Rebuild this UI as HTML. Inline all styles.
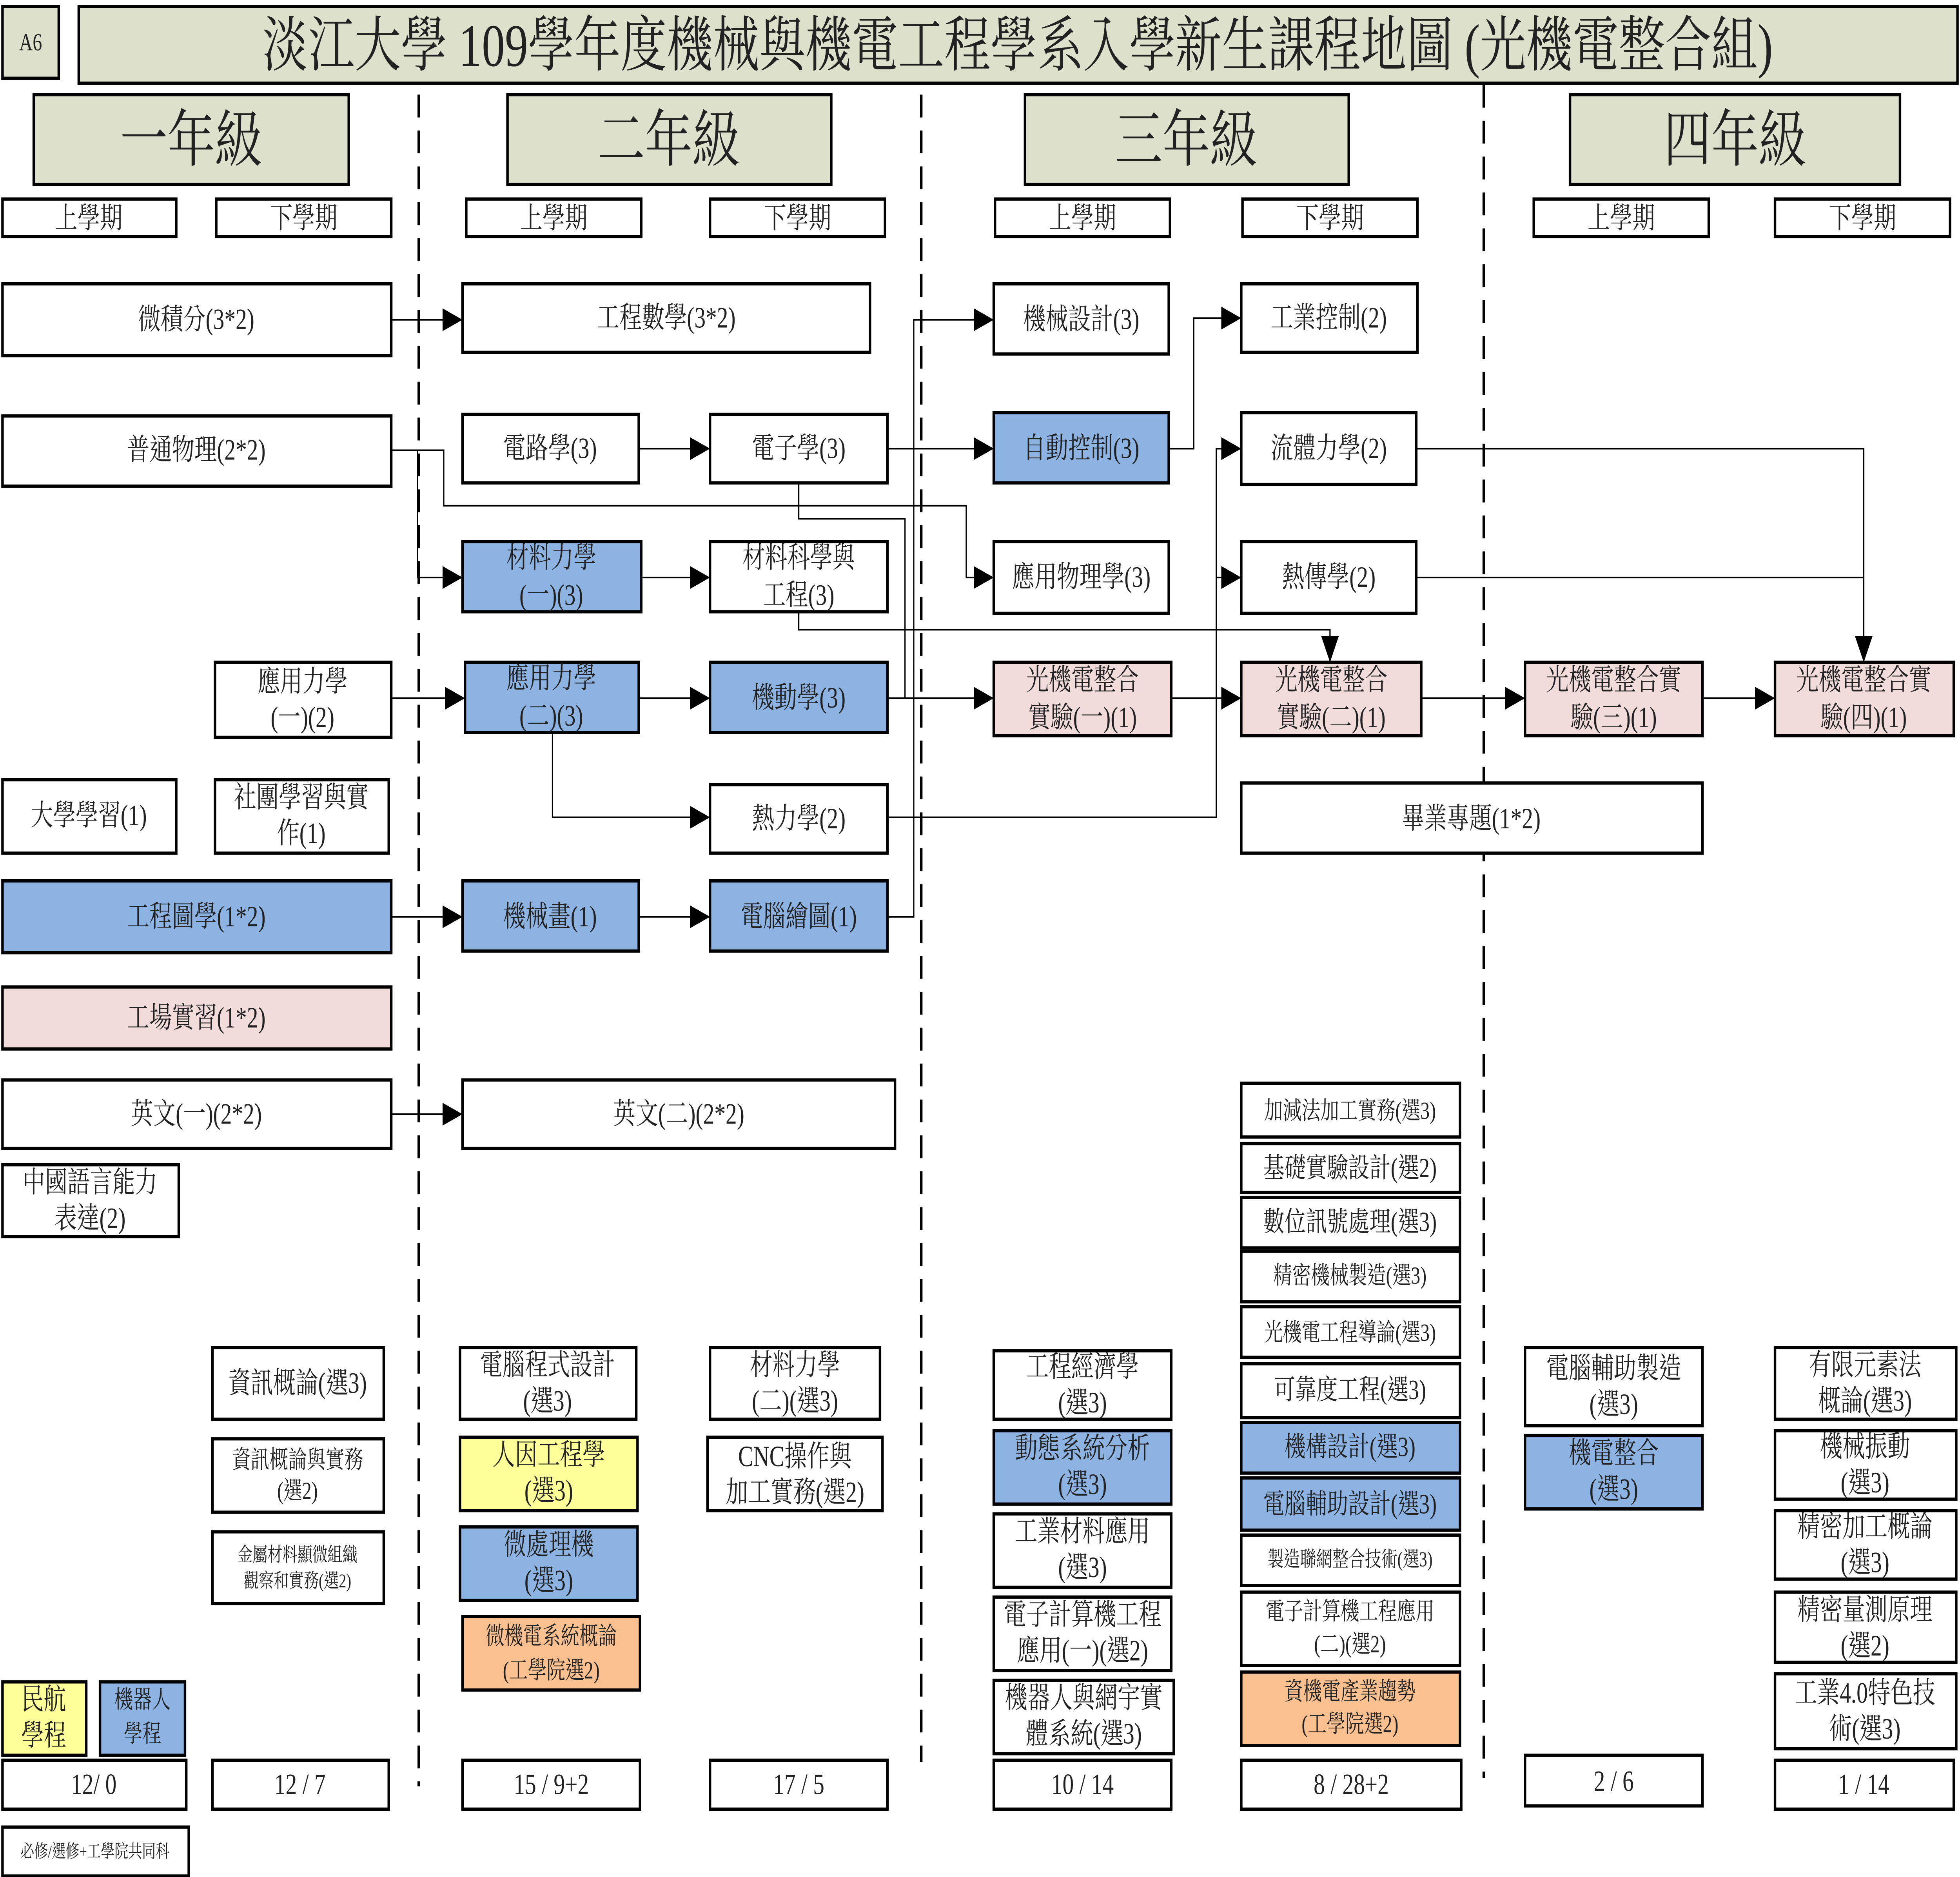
<!DOCTYPE html>
<html><head><meta charset="utf-8">
<style>
html,body{margin:0;padding:0;background:#fff;width:100%;height:100%;overflow:hidden;}
svg{display:block;position:fixed;left:0;top:0;width:100vw;height:100vh;}
text{font-family:"Liberation Serif","Noto Serif CJK TC","Noto Sans CJK TC",serif;fill:#222;text-anchor:middle;dominant-baseline:central;}
.r{fill:#fff;stroke:#000;stroke-width:2;}
.bl{fill:#8db3e2;}
.pk{fill:#f2dcdb;}
.ye{fill:#ffff99;}
.or{fill:#fac090;}
.ol{fill:#dde1cb;}
.c{font-size:18px;}
.s{font-size:15px;}
.xs{font-size:12px;}
.ln{fill:none;stroke:#000;stroke-width:1;}
.d{stroke:#000;stroke-width:2;stroke-dasharray:14,8;}
</style></head>
<body>
<svg viewBox="0 0 1568 1150.6" preserveAspectRatio="none" xmlns="http://www.w3.org/2000/svg">
<defs>
<marker id="a" markerUnits="userSpaceOnUse" markerWidth="18" markerHeight="14" refX="16" refY="7" orient="auto">
<path d="M0,0 L16,7 L0,14 Z" fill="#000"/>
</marker>
</defs>

<rect class="r ol" x="2" y="4" width="45" height="44"/>
<text x="24.5" y="26" style="font-size:15px">A6</text>
<rect class="r ol" x="63" y="4" width="1503" height="47"/>
<text x="814" y="28" style="font-size:37px">淡江大學 109學年度機械與機電工程學系入學新生課程地圖 (光機電整合組)</text>

<rect class="r ol" x="27" y="58" width="252" height="55"/><text x="153" y="86" style="font-size:38px">一年級</text>
<rect class="r ol" x="406" y="58" width="259" height="55"/><text x="535" y="86" style="font-size:38px">二年級</text>
<rect class="r ol" x="820" y="58" width="259" height="55"/><text x="949" y="86" style="font-size:38px">三年級</text>
<rect class="r ol" x="1256" y="58" width="264" height="55"/><text x="1388" y="86" style="font-size:38px">四年級</text>

<g class="c">
<rect class="r" x="2" y="122" width="139" height="23"/><text x="71" y="134">上學期</text>
<rect class="r" x="173" y="122" width="140" height="23"/><text x="243" y="134">下學期</text>
<rect class="r" x="373" y="122" width="140" height="23"/><text x="443" y="134">上學期</text>
<rect class="r" x="568" y="122" width="140" height="23"/><text x="638" y="134">下學期</text>
<rect class="r" x="796" y="122" width="140" height="23"/><text x="866" y="134">上學期</text>
<rect class="r" x="994" y="122" width="140" height="23"/><text x="1064" y="134">下學期</text>
<rect class="r" x="1227" y="122" width="140" height="23"/><text x="1297" y="134">上學期</text>
<rect class="r" x="1420" y="122" width="140" height="23"/><text x="1490" y="134">下學期</text>
</g>

<line class="d" x1="335" y1="58" x2="335" y2="1095"/>
<line class="d" x1="737" y1="58" x2="737" y2="1080"/>
<line class="d" x1="1187" y1="52" x2="1187" y2="1090"/>

<g class="ln">
<polyline points="313,196 370,196" marker-end="url(#a)"/>
<polyline points="313,276 355,276 355,310 773,310 773,354 795,354" marker-end="url(#a)"/>
<polyline points="334,276 334,354 370,354" marker-end="url(#a)"/>
<polyline points="511,275 568,275" marker-end="url(#a)"/>
<polyline points="710,275 795,275" marker-end="url(#a)"/>
<polyline points="639,296 639,318 724,318 724,428" />
<polyline points="639,375 639,386 1064,386 1064,406" marker-end="url(#a)"/>
<polyline points="513,354 568,354" marker-end="url(#a)"/>
<polyline points="313,428 372,428" marker-end="url(#a)"/>
<polyline points="511,428 568,428" marker-end="url(#a)"/>
<polyline points="710,428 795,428" marker-end="url(#a)"/>
<polyline points="442,449 442,501 568,501" marker-end="url(#a)"/>
<polyline points="313,562 370,562" marker-end="url(#a)"/>
<polyline points="511,562 568,562" marker-end="url(#a)"/>
<polyline points="710,562 731,562 731,196 795,196" marker-end="url(#a)"/>
<polyline points="313,683 370,683" marker-end="url(#a)"/>
<polyline points="935,275 955,275 955,195 993,195" marker-end="url(#a)"/>
<polyline points="710,501 973,501 973,275 993,275" marker-end="url(#a)"/>
<polyline points="973,354 993,354" marker-end="url(#a)"/>
<polyline points="937,428 993,428" marker-end="url(#a)"/>
<polyline points="1137,428 1220,428" marker-end="url(#a)"/>
<polyline points="1362,428 1420,428" marker-end="url(#a)"/>
<polyline points="1133,275 1491,275 1491,406" marker-end="url(#a)"/>
<polyline points="1133,354 1491,354"/>
</g>

<g class="c">
<rect class="r" x="2" y="174" width="311" height="44"/><text x="157" y="196">微積分(3*2)</text>
<rect class="r" x="2" y="255" width="311" height="43"/><text x="157" y="276">普通物理(2*2)</text>
<rect class="r" x="172" y="406" width="141" height="46"/><text x="242" y="418">應用力學</text><text x="242" y="440">(一)(2)</text>
<rect class="r" x="2" y="478" width="139" height="45"/><text x="71" y="500">大學學習(1)</text>
<rect class="r" x="172" y="478" width="139" height="45"/><text x="241" y="489">社團學習與實</text><text x="241" y="511">作(1)</text>
<rect class="r bl" x="2" y="540" width="311" height="44"/><text x="157" y="562">工程圖學(1*2)</text>
<rect class="r pk" x="2" y="605" width="311" height="38"/><text x="157" y="624">工場實習(1*2)</text>
<rect class="r" x="2" y="662" width="311" height="42"/><text x="157" y="683">英文(一)(2*2)</text>
<rect class="r" x="2" y="714" width="141" height="44"/><text x="72" y="725">中國語言能力</text><text x="72" y="747">表達(2)</text>
<rect class="r" x="170" y="826" width="137" height="44"/><text x="238" y="848">資訊概論(選3)</text>
</g>
<rect class="r" x="170" y="882" width="137" height="45"/><text class="s" x="238" y="895">資訊概論與實務</text><text class="s" x="238" y="914">(選2)</text>
<rect class="r" x="170" y="939" width="137" height="44"/><text class="xs" x="238" y="953">金屬材料顯微組織</text><text class="xs" x="238" y="969">觀察和實務(選2)</text>
<g class="c">
<rect class="r ye" x="2" y="1031" width="67" height="45"/><text x="35" y="1042">民航</text><text x="35" y="1064">學程</text>
<rect class="r bl" x="80" y="1031" width="68" height="45"/><text x="114" y="1042" class="s">機器人</text><text x="114" y="1063" class="s">學程</text>
<rect class="r" x="2" y="1079" width="147" height="30"/><text x="75" y="1094">12/ 0</text>
<rect class="r" x="170" y="1079" width="141" height="30"/><text x="240" y="1094">12 / 7</text>
</g>
<rect class="r" x="2" y="1120" width="149" height="30"/><text class="xs" x="76" y="1135" style="font-size:11px">必修/選修+工學院共同科</text>

<g class="c">
<rect class="r" x="370" y="174" width="326" height="42"/><text x="533" y="195">工程數學(3*2)</text>
<rect class="r" x="370" y="254" width="141" height="42"/><text x="440" y="275">電路學(3)</text>
<rect class="r" x="568" y="254" width="142" height="42"/><text x="639" y="275">電子學(3)</text>
<rect class="r bl" x="370" y="332" width="143" height="43"/><text x="441" y="342">材料力學</text><text x="441" y="365">(一)(3)</text>
<rect class="r" x="568" y="332" width="142" height="43"/><text x="639" y="342">材料科學與</text><text x="639" y="365">工程(3)</text>
<rect class="r bl" x="372" y="406" width="139" height="43"/><text x="441" y="416">應用力學</text><text x="441" y="439">(二)(3)</text>
<rect class="r bl" x="568" y="406" width="142" height="43"/><text x="639" y="428">機動學(3)</text>
<rect class="r" x="568" y="481" width="142" height="42"/><text x="639" y="502">熱力學(2)</text>
<rect class="r bl" x="370" y="540" width="141" height="43"/><text x="440" y="562">機械畫(1)</text>
<rect class="r bl" x="568" y="540" width="142" height="43"/><text x="639" y="562">電腦繪圖(1)</text>
<rect class="r" x="370" y="662" width="346" height="42"/><text x="543" y="683">英文(二)(2*2)</text>
<rect class="r" x="368" y="826" width="141" height="44"/><text x="438" y="837">電腦程式設計</text><text x="438" y="859">(選3)</text>
<rect class="r ye" x="368" y="881" width="142" height="45"/><text x="439" y="892">人因工程學</text><text x="439" y="914">(選3)</text>
<rect class="r bl" x="368" y="936" width="142" height="45"/><text x="439" y="947">微處理機</text><text x="439" y="969">(選3)</text>
</g>
<rect class="r or" x="370" y="991" width="142" height="45"/><text class="s" x="441" y="1003">微機電系統概論</text><text class="s" x="441" y="1024">(工學院選2)</text>
<g class="c">
<rect class="r" x="568" y="826" width="136" height="44"/><text x="636" y="837">材料力學</text><text x="636" y="859">(二)(選3)</text>
<rect class="r" x="566" y="881" width="140" height="45"/><text x="636" y="893">CNC操作與</text><text x="636" y="915">加工實務(選2)</text>
<rect class="r" x="370" y="1079" width="142" height="30"/><text x="441" y="1094">15 / 9+2</text>
<rect class="r" x="568" y="1079" width="142" height="30"/><text x="639" y="1094">17 / 5</text>
</g>

<g class="c">
<rect class="r" x="795" y="174" width="140" height="43"/><text x="865" y="196">機械設計(3)</text>
<rect class="r bl" x="795" y="253" width="140" height="43"/><text x="865" y="275">自動控制(3)</text>
<rect class="r" x="795" y="332" width="140" height="44"/><text x="865" y="354">應用物理學(3)</text>
<rect class="r pk" x="795" y="406" width="142" height="45"/><text x="866" y="417">光機電整合</text><text x="866" y="440">實驗(一)(1)</text>
<rect class="r" x="993" y="174" width="141" height="42"/><text x="1063" y="195">工業控制(2)</text>
<rect class="r" x="993" y="253" width="140" height="44"/><text x="1063" y="275">流體力學(2)</text>
<rect class="r" x="993" y="332" width="140" height="44"/><text x="1063" y="354">熱傳學(2)</text>
<rect class="r pk" x="993" y="406" width="144" height="45"/><text x="1065" y="417">光機電整合</text><text x="1065" y="440">實驗(二)(1)</text>
<rect class="r" x="993" y="480" width="369" height="43"/><text x="1177" y="502">畢業專題(1*2)</text>
<rect class="r" x="795" y="828" width="142" height="42"/><text x="866" y="838">工程經濟學</text><text x="866" y="860">(選3)</text>
<rect class="r bl" x="795" y="877" width="142" height="45"/><text x="866" y="888">動態系統分析</text><text x="866" y="910">(選3)</text>
<rect class="r" x="795" y="928" width="142" height="45"/><text x="866" y="939">工業材料應用</text><text x="866" y="961">(選3)</text>
<rect class="r" x="795" y="979" width="142" height="45"/><text x="866" y="990">電子計算機工程</text><text x="866" y="1012">應用(一)(選2)</text>
<rect class="r" x="795" y="1030" width="144" height="45"/><text x="867" y="1041">機器人與網宇實</text><text x="867" y="1063">體系統(選3)</text>
<rect class="r" x="795" y="1079" width="142" height="30"/><text x="866" y="1094">10 / 14</text>
</g>
<g class="s">
<rect class="r" x="993" y="664" width="175" height="33"/><text x="1080" y="681">加減法加工實務(選3)</text>
<rect class="r" x="993" y="701" width="175" height="30"/><text x="1080" y="716" style="font-size:17px">基礎實驗設計(選2)</text>
<rect class="r" x="993" y="734" width="175" height="31"/><text x="1080" y="749" style="font-size:17px">數位訊號處理(選3)</text>
<rect class="r" x="993" y="767" width="175" height="31"/><text x="1080" y="782">精密機械製造(選3)</text>
<rect class="r" x="993" y="801" width="175" height="31"/><text x="1080" y="817">光機電工程導論(選3)</text>
<rect class="r" x="993" y="836" width="175" height="33"/><text x="1080" y="852" style="font-size:17px">可靠度工程(選3)</text>
<rect class="r bl" x="993" y="872" width="175" height="31"/><text x="1080" y="887" style="font-size:17px">機構設計(選3)</text>
<rect class="r bl" x="993" y="906" width="175" height="32"/><text x="1080" y="922" style="font-size:17px">電腦輔助設計(選3)</text>
<rect class="r" x="993" y="941" width="175" height="31"/><text x="1080" y="956" style="font-size:13px">製造聯網整合技術(選3)</text>
<rect class="r" x="993" y="976" width="175" height="45"/><text x="1080" y="988">電子計算機工程應用</text><text x="1080" y="1008">(二)(選2)</text>
<rect class="r or" x="993" y="1025" width="175" height="45"/><text x="1080" y="1037">資機電產業趨勢</text><text x="1080" y="1057">(工學院選2)</text>
</g>
<rect class="r" x="993" y="1079" width="176" height="30"/><text class="c" x="1081" y="1094">8 / 28+2</text>

<g class="c">
<rect class="r pk" x="1220" y="406" width="142" height="45"/><text x="1291" y="417">光機電整合實</text><text x="1291" y="440">驗(三)(1)</text>
<rect class="r pk" x="1420" y="406" width="143" height="45"/><text x="1491" y="417">光機電整合實</text><text x="1491" y="440">驗(四)(1)</text>
<rect class="r" x="1220" y="826" width="142" height="48"/><text x="1291" y="839">電腦輔助製造</text><text x="1291" y="861">(選3)</text>
<rect class="r bl" x="1220" y="880" width="142" height="45"/><text x="1291" y="891">機電整合</text><text x="1291" y="913">(選3)</text>
<rect class="r" x="1420" y="826" width="145" height="44"/><text x="1492" y="837">有限元素法</text><text x="1492" y="859">概論(選3)</text>
<rect class="r" x="1420" y="877" width="145" height="42"/><text x="1492" y="887">機械振動</text><text x="1492" y="909">(選3)</text>
<rect class="r" x="1420" y="926" width="145" height="42"/><text x="1492" y="936">精密加工概論</text><text x="1492" y="958">(選3)</text>
<rect class="r" x="1420" y="976" width="145" height="43"/><text x="1492" y="987">精密量測原理</text><text x="1492" y="1009">(選2)</text>
<rect class="r" x="1420" y="1026" width="145" height="46"/><text x="1492" y="1038">工業4.0特色技</text><text x="1492" y="1060">術(選3)</text>
<rect class="r" x="1220" y="1076" width="142" height="31"/><text x="1291" y="1092">2 / 6</text>
<rect class="r" x="1420" y="1079" width="143" height="30"/><text x="1491" y="1094">1 / 14</text>
</g>
</svg>
</body></html>
